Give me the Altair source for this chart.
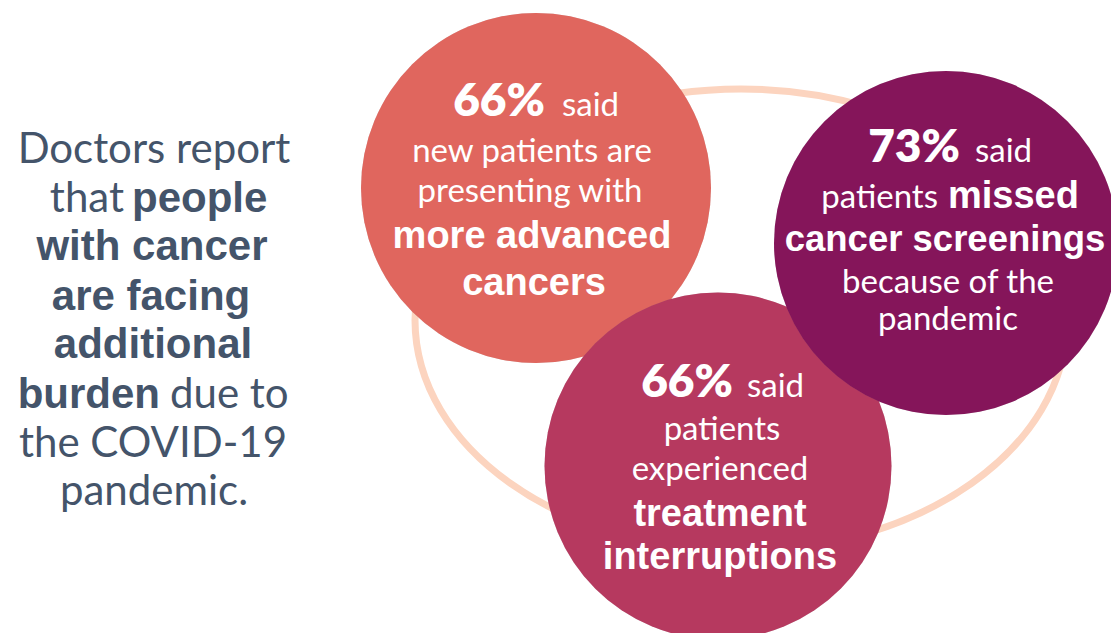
import altair as alt
import pandas as pd

# ---------------- data ----------------
# Survey results shown in the three bubbles
stat_values = ["66%", "73%", "66%"]

# Bubble geometry (page pixels) and colours
circle_names = ["advanced", "interruptions", "screenings"]   # draw order
circle_cx = [536, 718, 946]
circle_cy = [188, 466, 243]
circle_d = [350, 347, 344]
circle_color = ["#E0665E", "#B6395F", "#85155A"]

# Background ring (ellipse)
ring_cx = [741]
ring_cy = [320]
ring_rx = [326]
ring_ry = [231]
ring_color = "#FCD4BF"

# Text segments: text, x, baseline y, align, style, font size, colour
# style: 0 = regular, 1 = bold, 2 = big statistic
LEFT = "#44546A"
WH = "#FFFFFF"
seg_text = [
    "Doctors report", "that", "people", "with cancer", "are facing",
    "additional", "burden", "due to", "the COVID-19", "pandemic.",
    stat_values[0], "said", "new patients are", "presenting with",
    "more advanced", "cancers",
    stat_values[1], "said", "patients", "missed", "cancer screenings",
    "because of the", "pandemic",
    stat_values[2], "said", "patients", "experienced", "treatment",
    "interruptions",
]
seg_x = [
    154, 124, 132, 152, 151, 153, 160, 170, 153, 154,
    545, 562, 532, 530, 532, 534,
    960, 975, 938, 948, 945, 948, 948,
    733, 747, 722, 720, 720, 720,
]
seg_y = [
    163, 212, 212, 260, 310, 358, 408, 408, 457, 505,
    116, 116, 162, 202, 248, 295,
    162, 162, 208, 208, 251, 293, 330,
    397, 397, 440, 480, 526, 569,
]
seg_align = [
    "center", "right", "left", "center", "center", "center", "right", "left", "center", "center",
    "right", "left", "center", "center", "center", "center",
    "right", "left", "right", "left", "center", "center", "center",
    "right", "left", "center", "center", "center", "center",
]
seg_style = [
    0, 0, 1, 1, 1, 1, 1, 0, 0, 0,
    2, 0, 0, 0, 1, 1,
    2, 0, 0, 1, 1, 0, 0,
    2, 0, 0, 0, 1, 1,
]
seg_size = [
    42, 42, 42, 42, 42, 42, 42, 42, 42, 42,
    46, 33, 33, 33, 38, 38,
    46, 33, 33, 38, 36.5, 33, 33,
    46, 33, 33, 33, 38, 38,
]
seg_color = [LEFT] * 10 + [WH] * 19

# ---------------- chart ----------------
W, H = 1103, 625
xs = alt.Scale(domain=[8, 8 + W], nice=False, zero=False)
ys = alt.Scale(domain=[8, 8 + H], nice=False, zero=False, reverse=True)
STYLES = {
    0: ("Lato", "normal"),
    1: ("Liberation Sans", "bold"),
    2: ("Lato", 800),
}


def X():
    return alt.X("x:Q", scale=xs, axis=None)


def Y():
    return alt.Y("y:Q", scale=ys, axis=None)


# ring as a custom ellipse symbol (unit path scaled by sqrt(size)/2)
a = ring_ry[0] / ring_rx[0]
k = 0.5523
ell = (
    f"M 1 0 C 1 {k*a:.4f} {k:.4f} {a:.4f} 0 {a:.4f} "
    f"C {-k:.4f} {a:.4f} -1 {k*a:.4f} -1 0 "
    f"C -1 {-k*a:.4f} {-k:.4f} {-a:.4f} 0 {-a:.4f} "
    f"C {k:.4f} {-a:.4f} 1 {-k*a:.4f} 1 0 Z"
)
ring_df = pd.DataFrame({"x": ring_cx, "y": ring_cy,
                        "s": [(2 * r) ** 2 for r in ring_rx]})
ring = alt.Chart(ring_df).mark_point(
    shape=ell, filled=False, strokeWidth=7, opacity=1, color=ring_color
).encode(x=X(), y=Y(), size=alt.Size("s:Q", scale=None))

layers = [ring]
for i in range(len(circle_names)):
    cdf = pd.DataFrame({"x": [circle_cx[i]], "y": [circle_cy[i]],
                        "s": [circle_d[i] ** 2], "c": [circle_color[i]]})
    shadow = alt.Chart(cdf).mark_point(
        shape="circle", filled=True, opacity=0.35, color="#8a8a8a",
        strokeWidth=0, dx=2, dy=3
    ).encode(x=X(), y=Y(), size=alt.Size("s:Q", scale=None))
    circ = alt.Chart(cdf).mark_point(
        shape="circle", filled=True, opacity=1, strokeWidth=0
    ).encode(x=X(), y=Y(), size=alt.Size("s:Q", scale=None),
             color=alt.Color("c:N", scale=None))
    layers += [shadow, circ]

tdf = pd.DataFrame({
    "t": seg_text, "x": seg_x, "y": seg_y, "align": seg_align,
    "style": seg_style, "fs": seg_size, "col": seg_color,
})
for al in ["left", "center", "right"]:
    for st, (fam, wt) in STYLES.items():
        sub = tdf[(tdf["align"] == al) & (tdf["style"] == st)]
        if len(sub) == 0:
            continue
        layers.append(
            alt.Chart(sub).mark_text(
                align=al, baseline="alphabetic", font=fam, fontWeight=wt,
            ).encode(
                x=X(), y=Y(), text="t:N",
                size=alt.Size("fs:Q", scale=None),
                color=alt.Color("col:N", scale=None),
            )
        )

chart = alt.layer(*layers).properties(
    width=W, height=H, padding=0,
    autosize=alt.AutoSizeParams(type="none"),
    background="#FFFFFF",
).configure_view(stroke=None)

chart.save("out.html", embed_options={"renderer": "svg", "actions": False})
